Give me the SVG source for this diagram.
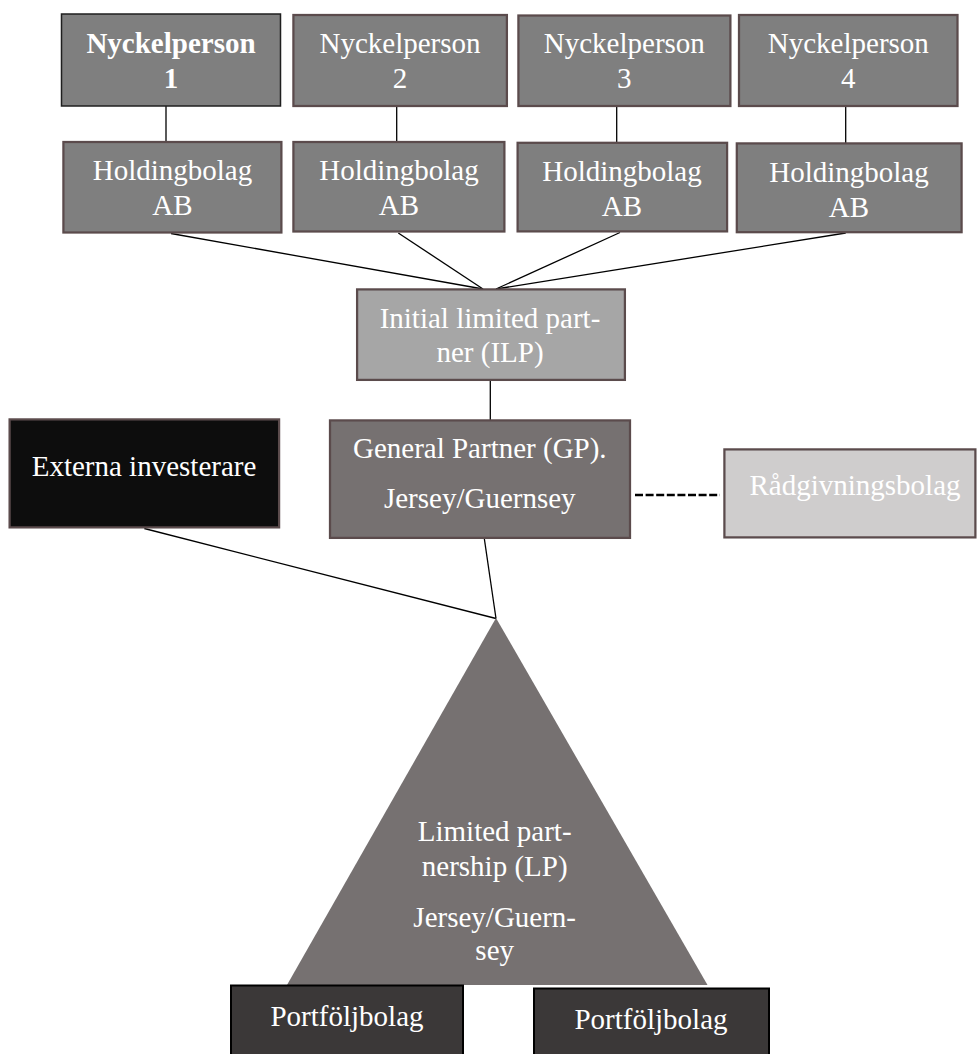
<svg xmlns="http://www.w3.org/2000/svg" width="977" height="1054" viewBox="0 0 977 1054">
<style>
  .box { stroke: #5b4b4c; stroke-width: 2.25; }
  .mid { fill: #7f7f7f; }
  .t { font-family: "Liberation Serif", "Times New Roman", serif; font-size: 29px; fill: #ffffff; text-anchor: middle; }
  .b { font-weight: bold; }
  .c { stroke: #000000; stroke-width: 1.3; fill: none; }
</style>
<rect x="0" y="0" width="977" height="1054" fill="#ffffff"/>
<g id="connectors">
  <line class="c" x1="166" y1="106" x2="166" y2="142"/>
  <line class="c" x1="396.7" y1="106" x2="396.7" y2="142"/>
  <line class="c" x1="616.7" y1="106" x2="616.7" y2="143"/>
  <line class="c" x1="845.7" y1="106" x2="845.7" y2="143"/>
  <line class="c" x1="171" y1="233.5" x2="483" y2="289"/>
  <line class="c" x1="398.3" y1="233" x2="483" y2="289"/>
  <line class="c" x1="620" y1="232.5" x2="496" y2="289"/>
  <line class="c" x1="845.7" y1="233" x2="496" y2="289"/>
  <line class="c" x1="490.3" y1="380" x2="490.3" y2="420"/>
  <line class="c" x1="144.3" y1="528.5" x2="496" y2="618.5"/>
  <line class="c" x1="484.3" y1="538.5" x2="496" y2="618.5"/>
  <line x1="635" y1="495" x2="720" y2="495" stroke="#000000" stroke-width="2.5" stroke-dasharray="8 2.6"/>
</g>
<g id="np1">
  <rect x="61.5" y="14" width="219" height="92" fill="#7f7f7f" stroke="#1f1f1f" stroke-width="1.5"/>
  <text class="t b" x="171" y="53">Nyckelperson</text>
  <text class="t b" x="171" y="87.5">1</text>
</g>
<g id="np2">
  <rect class="box mid" x="293.4" y="15" width="213.5" height="91"/>
  <text class="t" x="400" y="53">Nyckelperson</text>
  <text class="t" x="400" y="87.5">2</text>
</g>
<g id="np3">
  <rect class="box mid" x="518.4" y="15.5" width="212" height="90.5"/>
  <text class="t" x="624.3" y="53">Nyckelperson</text>
  <text class="t" x="624.3" y="88">3</text>
</g>
<g id="np4">
  <rect class="box mid" x="739" y="15" width="218.5" height="91"/>
  <text class="t" x="848.3" y="53">Nyckelperson</text>
  <text class="t" x="848.3" y="88">4</text>
</g>
<g id="hb1">
  <rect class="box mid" x="63.4" y="142" width="218" height="90.5"/>
  <text class="t" x="172.5" y="180">Holdingbolag</text>
  <text class="t" x="172.5" y="215">AB</text>
</g>
<g id="hb2">
  <rect class="box mid" x="293.4" y="142" width="211" height="89.5"/>
  <text class="t" x="399" y="180">Holdingbolag</text>
  <text class="t" x="399" y="215">AB</text>
</g>
<g id="hb3">
  <rect class="box mid" x="517.6" y="142.8" width="209.5" height="88.6"/>
  <text class="t" x="622" y="181">Holdingbolag</text>
  <text class="t" x="622" y="216">AB</text>
</g>
<g id="hb4">
  <rect class="box mid" x="736.8" y="143.4" width="224.8" height="88.8"/>
  <text class="t" x="849" y="181.7">Holdingbolag</text>
  <text class="t" x="849" y="216.7">AB</text>
</g>
<g id="ilp">
  <rect class="box" x="357.1" y="289.4" width="267.8" height="90.5" fill="#a6a6a6"/>
  <text class="t" x="490" y="328.3">Initial limited part-</text>
  <text class="t" x="490" y="361.7">ner (ILP)</text>
</g>
<g id="gp">
  <rect class="box" x="330" y="420.4" width="300" height="117.5" fill="#767171"/>
  <text class="t" x="479.8" y="458.3">General Partner (GP).</text>
  <text class="t" x="479.8" y="508.3">Jersey/Guernsey</text>
</g>
<g id="externa">
  <rect class="box" x="9.6" y="419.4" width="269.5" height="108" fill="#0d0d0d"/>
  <text class="t" x="144" y="475.7">Externa investerare</text>
</g>
<g id="radgivning">
  <rect class="box" x="724.4" y="449.4" width="251" height="88" fill="#cfcdcd"/>
  <text class="t" x="855" y="495" fill="#f2f2f2">Rådgivningsbolag</text>
</g>
<g id="lp">
  <polygon points="496,618 707.5,985 287,985" fill="#767171"/>
  <text class="t" x="494.7" y="841">Limited part-</text>
  <text class="t" x="494.7" y="875.7">nership (LP)</text>
  <text class="t" x="494.7" y="926.7">Jersey/Guern-</text>
  <text class="t" x="494.7" y="960">sey</text>
</g>
<g id="portfolj1">
  <rect x="231" y="985.5" width="232" height="80" fill="#3b3838" stroke="#000000" stroke-width="2"/>
  <text class="t" x="347" y="1026">Portföljbolag</text>
</g>
<g id="portfolj2">
  <rect x="534" y="988.5" width="235" height="80" fill="#3b3838" stroke="#000000" stroke-width="2"/>
  <text class="t" x="651" y="1029">Portföljbolag</text>
</g>
</svg>
